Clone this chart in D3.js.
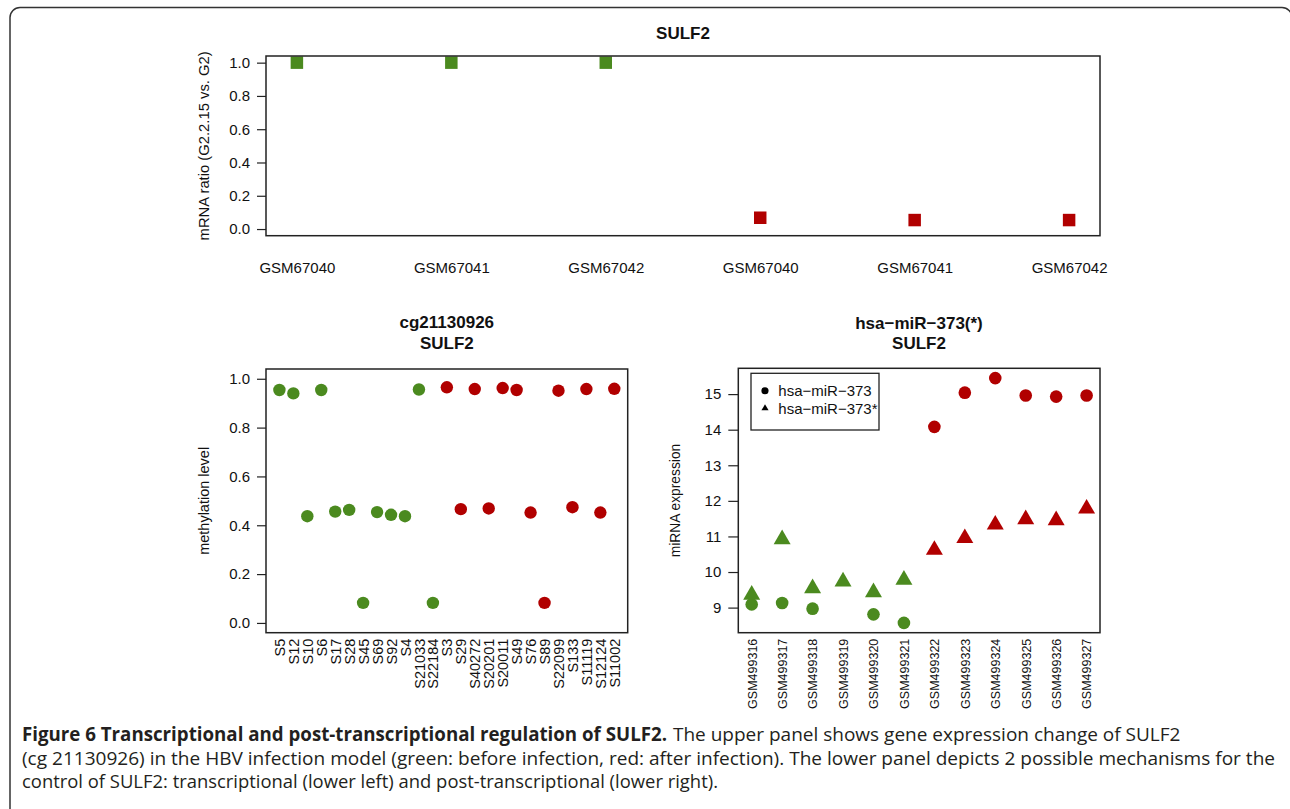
<!DOCTYPE html>
<html>
<head>
<meta charset="utf-8">
<script src="https://cdn.jsdelivr.net/npm/d3@7"></script>
<style>
  body { margin: 0; background: #fff; }
  svg text { font-family: "Liberation Sans", Arial, Helvetica, sans-serif; fill: #111; }
</style>
</head>
<body>
<svg id="fig" width="1290" height="809"></svg>
<script>
// upper panel: mRNA ratio
var mrnaSamples = ["GSM67040", "GSM67041", "GSM67042", "GSM67040", "GSM67041", "GSM67042"];
var mrnaRatio = [1.0, 1.0, 1.0, 0.068, 0.054, 0.054];
var mrnaGroup = ["before", "before", "before", "after", "after", "after"];

// lower left: methylation of cg21130926
var methSamples = ["S5", "S12", "S10", "S6", "S17", "S28", "S45", "S69", "S92", "S4", "S21033", "S22184",
  "S3", "S29", "S40272", "S20201", "S20011", "S49", "S76", "S89", "S22099", "S133", "S11119", "S12124", "S11002"];
var methLevel = [0.954, 0.940, 0.437, 0.954, 0.456, 0.463, 0.082, 0.454, 0.443, 0.437, 0.956, 0.082,
  0.965, 0.466, 0.958, 0.469, 0.962, 0.954, 0.452, 0.082, 0.951, 0.474, 0.958, 0.452, 0.959];
var methGroup = ["before", "before", "before", "before", "before", "before", "before", "before", "before", "before", "before", "before",
  "after", "after", "after", "after", "after", "after", "after", "after", "after", "after", "after", "after", "after"];

// lower right: miRNA expression
var mirSamples = ["GSM499316", "GSM499317", "GSM499318", "GSM499319", "GSM499320", "GSM499321",
  "GSM499322", "GSM499323", "GSM499324", "GSM499325", "GSM499326", "GSM499327"];
var mir373 = [9.09, 9.13, 8.97, null, 8.81, 8.57, 14.08, 15.04, 15.45, 14.96, 14.93, 14.96];
var mir373star = [9.36, 10.92, 9.54, 9.73, 9.43, 9.78, 10.62, 10.95, 11.33, 11.48, 11.45, 11.78];
var mirGroup = ["before", "before", "before", "before", "before", "before", "after", "after", "after", "after", "after", "after"];
var legendNames = ["hsa\u2212miR\u2212373", "hsa\u2212miR\u2212373*"];

var ticks01 = [0, 0.2, 0.4, 0.6, 0.8, 1.0];
var mirTicks = [9, 10, 11, 12, 13, 14, 15];

var svg = d3.select("#fig");
var color = d3.scaleOrdinal().domain(["before", "after"]).range(["#4b8a1f", "#b10000"]);
var ink = "#222";

// R style 4% padding on both ends
function padded(lo, hi) {
  var e = (hi - lo) * 0.04;
  return [lo - e, hi + e];
}

function makePanel(box, n, yLim) {
  return {
    box: box,
    x: d3.scaleLinear().domain(padded(0, n - 1)).range([box.left, box.right]),
    y: d3.scaleLinear().domain(padded(yLim[0], yLim[1])).range([box.bottom, box.top])
  };
}

function yAxis(p, ticks, fmt, tickLen) {
  svg.append("g")
    .attr("transform", "translate(" + p.box.left + ",0)")
    .call(d3.axisLeft(p.y).tickValues(ticks).tickFormat(fmt).tickSize(tickLen).tickPadding(7))
    .call(function (g) { g.select(".domain").remove(); })
    .attr("font-size", 15).attr("font-family", null)
    .call(function (g) { g.selectAll("line").attr("stroke", ink).attr("stroke-width", 1.2); });
}

function xLabels(p, names, rotated, size) {
  var g = svg.append("g")
    .attr("transform", "translate(0," + p.box.bottom + ")")
    .call(d3.axisBottom(p.x).tickValues(d3.range(names.length))
      .tickFormat(function (i) { return names[i]; })
      .tickSize(0).tickPadding(rotated ? 0 : 27))
    .call(function (g) { g.select(".domain").remove(); })
    .attr("font-size", size).attr("font-family", null);
  if (rotated) {
    g.selectAll("text")
      .attr("transform", "rotate(-90)")
      .attr("text-anchor", "end")
      .attr("x", -6).attr("y", 0).attr("dy", "0.35em");
  }
}

function drawBox(p) {
  var b = p.box;
  svg.append("rect")
    .attr("x", b.left).attr("y", b.top)
    .attr("width", b.right - b.left).attr("height", b.bottom - b.top)
    .attr("fill", "none").attr("stroke", ink).attr("stroke-width", 1.5);
}

function titles(lines, x, ys) {
  lines.forEach(function (t, i) {
    svg.append("text").attr("x", x).attr("y", ys[i])
      .attr("text-anchor", "middle").attr("font-weight", "bold").attr("font-size", 17)
      .text(t);
  });
}

function yTitle(t, x, p, size) {
  svg.append("text")
    .attr("transform", "translate(" + x + "," + (p.box.top + p.box.bottom) / 2 + ") rotate(-90)")
    .attr("text-anchor", "middle").attr("dy", "0.35em").attr("font-size", size)
    .text(t);
}

function marks(p, values, groups, shape, size) {
  var sym = d3.symbol().type(shape).size(size);
  svg.append("g").selectAll("path")
    .data(values.map(function (v, i) { return { i: i, v: v, g: groups[i] }; })
      .filter(function (d) { return d.v != null; }))
    .join("path")
    .attr("transform", function (d) { return "translate(" + p.x(d.i) + "," + p.y(d.v) + ")"; })
    .attr("d", sym)
    .attr("fill", function (d) { return color(d.g); });
}

// outer figure frame
svg.append("rect")
  .attr("x", 10).attr("y", 7.5).attr("width", 1282).attr("height", 820)
  .attr("rx", 10).attr("fill", "none").attr("stroke", "#333").attr("stroke-width", 1.5);

// ---- upper panel
var upperPanel = makePanel({ left: 266, right: 1100, top: 56, bottom: 235.7 }, mrnaSamples.length, [0, 1]);
marks(upperPanel, mrnaRatio, mrnaGroup, d3.symbolSquare, 156);
yAxis(upperPanel, ticks01, d3.format(".1f"), 9);
xLabels(upperPanel, mrnaSamples, false, 15);
drawBox(upperPanel);
titles(["SULF2"], 683, [38.5]);
yTitle("mRNA ratio (G2.2.15 vs. G2)", 204, upperPanel, 14.8);

// ---- lower left panel
var methPanel = makePanel({ left: 266, right: 627.7, top: 369, bottom: 632.7 }, methSamples.length, [0, 1]);
marks(methPanel, methLevel, methGroup, d3.symbolCircle, 121);
yAxis(methPanel, ticks01, d3.format(".1f"), 9);
xLabels(methPanel, methSamples, true, 14.5);
drawBox(methPanel);
titles(["cg21130926", "SULF2"], 446.8, [328, 349]);
yTitle("methylation level", 204, methPanel, 14.5);

// ---- lower right panel
var mirAll = mir373.concat(mir373star).filter(function (v) { return v != null; });
var mirPanel = makePanel({ left: 738.3, right: 1100, top: 368.3, bottom: 632.7 }, mirSamples.length, d3.extent(mirAll));
marks(mirPanel, mir373, mirGroup, d3.symbolCircle, 125);
marks(mirPanel, mir373star, mirGroup, d3.symbolTriangle, 125);
yAxis(mirPanel, mirTicks, d3.format("d"), 10);
xLabels(mirPanel, mirSamples, true, 12.5);
drawBox(mirPanel);
titles(["hsa\u2212miR\u2212373(*)", "SULF2"], 919, [329, 349]);
yTitle("miRNA expression", 675, mirPanel, 13.8);

// legend
var lg = svg.append("g");
lg.append("rect").attr("x", 751).attr("y", 373.3).attr("width", 128).attr("height", 56.7)
  .attr("fill", "#fff").attr("stroke", ink).attr("stroke-width", 1.3);
[d3.symbolCircle, d3.symbolTriangle].forEach(function (s, i) {
  var yy = 390.7 + i * 17.6;
  lg.append("path").attr("transform", "translate(765," + yy + ")")
    .attr("d", d3.symbol().type(s).size(i ? 22 : 40)).attr("fill", "#000");
  lg.append("text").attr("x", 778.3).attr("y", yy).attr("dy", "0.35em").attr("font-size", 15)
    .text(legendNames[i]);
});

// caption
var capFont = '"Open Sans", "Noto Sans", sans-serif';
function capText(t, x, y, len, bold) {
  var el = svg.append("text").attr("x", x).attr("y", y)
    .attr("font-size", 19).attr("font-weight", bold ? "bold" : "normal")
    .style("font-family", capFont).style("fill", "#231f20")
    .text(t);
  if (len) el.attr("textLength", len).attr("lengthAdjust", "spacingAndGlyphs");
}
capText("Figure 6 Transcriptional and post-transcriptional regulation of SULF2.", 22, 741, 645, true);
capText("The upper panel shows gene expression change of SULF2", 673, 741, 0, false);
capText("(cg 21130926) in the HBV infection model (green: before infection, red: after infection). The lower panel depicts 2 possible mechanisms for the", 22, 764.5, 1253, false);
capText("control of SULF2: transcriptional (lower left) and post-transcriptional (lower right).", 22, 788, 696, false);
</script>
</body>
</html>
